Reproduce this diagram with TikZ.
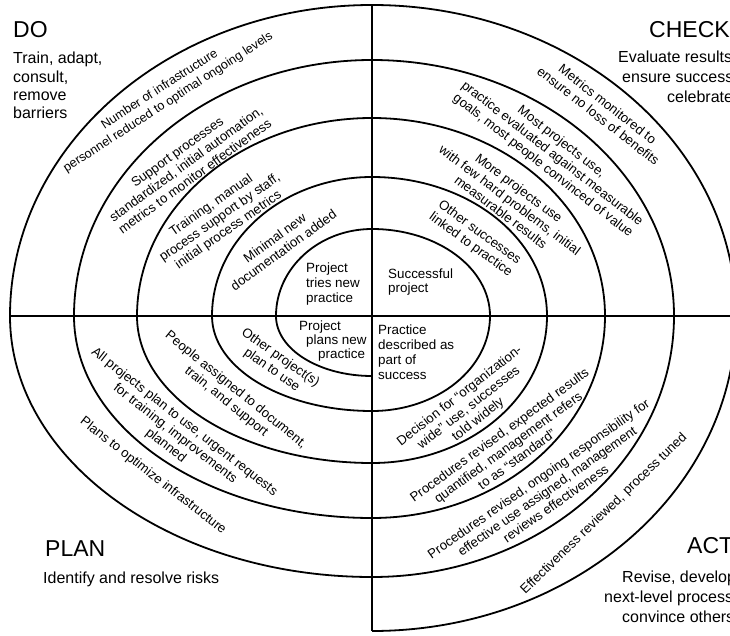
\documentclass[tikz,border=0pt]{standalone}
\usepackage{fontspec}
\setmainfont{Liberation Sans}
\begin{document}
\begin{tikzpicture}[x=1pt,y=-1pt,
  spiral/.style={line width=1.8pt,line join=round},
  title/.style={font=\fontsize{23}{27}\selectfont,anchor=base west,inner sep=0pt},
  body/.style={font=\fontsize{16}{19}\selectfont,anchor=base west,inner sep=0pt},
  small/.style={font=\fontsize{13.4}{15}\selectfont,anchor=base west,inner sep=0pt},
  arclabel/.style={font=\fontsize{13.2}{15}\selectfont,align=center,inner sep=0pt}]
\useasboundingbox (0,0) rectangle (730,636);
\clip (0,0) rectangle (730,636);
% spiral points
\coordinate (b0) at (372,376);
\coordinate (L1) at (276,316);
\coordinate (T1) at (372,229);
\coordinate (R1) at (490,316);
\coordinate (b1) at (372,411);
\coordinate (L2) at (212,316);
\coordinate (T2) at (372,177);
\coordinate (R2) at (547,316);
\coordinate (b2) at (372,463);
\coordinate (L3) at (137,316);
\coordinate (T3) at (372,118);
\coordinate (R3) at (605,316);
\coordinate (b3) at (372,518);
\coordinate (L4) at (74,316);
\coordinate (T4) at (372,60);
\coordinate (R4) at (674,316);
\coordinate (b4) at (372,577);
\coordinate (L5) at (10,316);
\coordinate (T5) at (372,5);
\coordinate (R5) at (736,316);
\coordinate (b5) at (372,631);
\draw[spiral] (b0) .. controls +(-53,0) and +(0,33.1) .. (L1)
 .. controls +(0,-48.0) and +(-53,0) .. (T1)
 .. controls +(65.2,0) and +(0,-48.0) .. (R1)
 .. controls +(0,52.5) and +(65.2,0) .. (b1)
 .. controls +(-88.4,0) and +(0,52.5) .. (L2)
 .. controls +(0,-76.8) and +(-88.4,0) .. (T2)
 .. controls +(96.7,0) and +(0,-76.8) .. (R2)
 .. controls +(0,81.2) and +(96.7,0) .. (b2)
 .. controls +(-129.8,0) and +(0,81.2) .. (L3)
 .. controls +(0,-109.4) and +(-129.8,0) .. (T3)
 .. controls +(128.7,0) and +(0,-109.4) .. (R3)
 .. controls +(0,111.6) and +(128.7,0) .. (b3)
 .. controls +(-164.6,0) and +(0,111.6) .. (L4)
 .. controls +(0,-141.4) and +(-164.6,0) .. (T4)
 .. controls +(166.8,0) and +(0,-141.4) .. (R4)
 .. controls +(0,144.1) and +(166.8,0) .. (b4)
 .. controls +(-199.9,0) and +(0,144.1) .. (L5)
 .. controls +(0,-171.8) and +(-199.9,0) .. (T5)
 .. controls +(201.0,0) and +(0,-171.8) .. (R5)
 .. controls +(0,174.0) and +(201.0,0) .. (b5);
\draw[spiral] (T5) -- (b5);
\draw[spiral] (L5) -- (R5);
% corner titles
\node[title] (do) at (13,38) {DO};
\node[body] (do1) at (13,64) {Train, adapt,};
\node[body] (do2) at (13,83) {consult,};
\node[body] (do3) at (13,101) {remove};
\node[body] (do4) at (13,119) {barriers};
\node[title] (check) at (649,38) {CHECK};
\node[body] (ch1) at (618,63) {Evaluate results};
\node[body] (ch2) at (622,83) {ensure success};
\node[body] (ch3) at (667,103) {celebrate};
\node[title] (plan) at (45,556) {PLAN};
\node[body] (pl1) at (43,583) {Identify and resolve risks};
\node[title] (act) at (687,553) {ACT};
\node[body] (ac1) at (622,582) {Revise, develop};
\node[body] (ac2) at (604,602) {next-level process};
\node[body] (ac3) at (622,622) {convince others};
% centre texts
\node[small] (c1a) at (306,272) {Project};
\node[small] (c1b) at (306,287) {tries new};
\node[small] (c1c) at (306,302) {practice};
\node[small] (c2a) at (388,278) {Successful};
\node[small] (c2b) at (388,292) {project};
\node[small] (c3a) at (299,330) {Project};
\node[small] (c3b) at (306,344) {plans new};
\node[small] (c3c) at (318,358) {practice};
\node[small] (c4a) at (378,334) {Practice};
\node[small] (c4b) at (378,349) {described as};
\node[small] (c4c) at (378,364) {part of};
\node[small] (c4d) at (378,379) {success};
% DO ring labels
\node[arclabel,rotate=36] (d2) at (279,244) {Minimal new\\documentation added};
\node[arclabel,rotate=35] (d3) at (220,218) {Training, manual\\process support by staff,\\initial process metrics};
\node[arclabel,rotate=36] (d4) at (186,164) {Support processes\\standardized, initial automation,\\metrics to monitor effectiveness};
\node[arclabel,rotate=33,font=\fontsize{12.6}{15.5}\selectfont] (d5) at (164,96) {Number of infrastructure\\personnel reduced to optimal ongoing levels};
% CHECK ring labels
\node[arclabel,rotate=-36] (k2) at (475,239) {Other successes\\linked to practice};
\node[arclabel,rotate=-37] (k3) at (510,200) {More projects use\\with few hard problems, initial\\measurable results};
\node[arclabel,rotate=-38] (k4) at (552,154) {Most projects use,\\practice evaluated against measurable\\goals, most people convinced of value};
\node[arclabel,rotate=-38] (k5) at (603,110) {Metrics monitored to\\ensure no loss of benefits};
% ACT ring labels
\node[arclabel,rotate=38] (a2) at (469,408) {Decision for “organization-\\wide” use, successes\\told widely};
\node[arclabel,rotate=36] (a3) at (508,447) {Procedures revised, expected results\\quantified, management refers\\to as “standard”};
\node[arclabel,rotate=35] (a4) at (547,491) {Procedures revised, ongoing responsibility for\\effective use assigned, management\\reviews effectiveness};
\node[arclabel,rotate=44] (a5) at (604,514) {Effectiveness reviewed, process tuned};
% PLAN ring labels
\node[arclabel,rotate=-35] (p2) at (276,364) {Other project(s)\\plan to use};
\node[arclabel,rotate=-39] (p3) at (231,396) {People assigned to document,\\train, and support};
\node[arclabel,rotate=-38] (p4) at (175,434) {All projects plan to use, urgent requests\\for training, improvements\\planned};
\node[arclabel,rotate=-38] (p5) at (153,476) {Plans to optimize infrastructure};
\end{tikzpicture}
\end{document}
